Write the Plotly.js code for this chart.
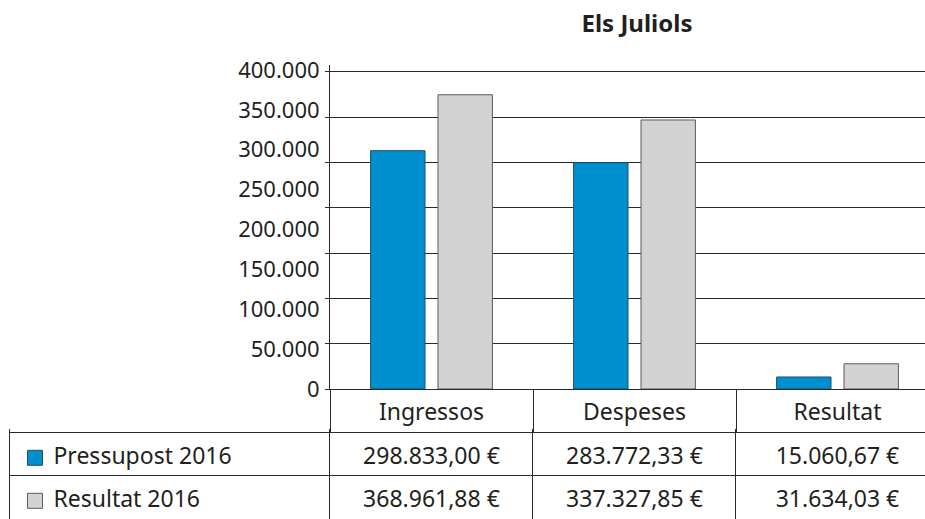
<!DOCTYPE html>
<html>
<head>
<meta charset="utf-8">
<script src="https://cdn.plot.ly/plotly-3.0.1.min.js"></script>
<style>html,body{margin:0;padding:0;background:#fff;}#chart{width:925px;height:519px;}</style>
</head>
<body>
<div id="chart"></div>
<script>
// ---- data ----
const chartTitle = 'Els Juliols';
const categories = ['Ingressos', 'Despeses', 'Resultat'];
const seriesNames = ['Pressupost 2016', 'Resultat 2016'];
const pressupost2016 = [298833.00, 283772.33, 15060.67];
const resultat2016 = [368961.88, 337327.85, 31634.03];
const yTickValues = [0, 50000, 100000, 150000, 200000, 250000, 300000, 350000, 400000];

// ---- style ----
const FONT = '"Noto Sans", "Open Sans", sans-serif';
const TXT = '#231f20';
const LINE = '#2a2a2a';
const BLUE = '#008fce', BLUE_LINE = '#1d4e6b';
const GRAY = '#d3d3d3', GRAY_LINE = '#5a5a5a';

function fmtEuro(v) {
  const parts = v.toFixed(2).split('.');
  const intPart = parts[0].replace(/\B(?=(\d{3})+(?!\d))/g, '.');
  return intPart + ',' + parts[1] + ' €';
}

const W = 925, H = 519;
const px = v => v / W, py = v => 1 - v / H;

const xRange = [-0.5, 2.431];
const tableXRange = [-2.076, 2.431];
const rowY = [1.4, 0.4];
const legendMarkerX = -1.953;
const legendTextX = -1.862;

const traces = [
  {
    type: 'bar', x: categories, y: pressupost2016, name: seriesNames[0],
    width: 0.268, offset: -0.30,
    marker: {color: BLUE, line: {color: BLUE_LINE, width: 1}},
    hoverinfo: 'skip'
  },
  {
    type: 'bar', x: categories, y: resultat2016, name: seriesNames[1],
    width: 0.268, offset: 0.032,
    marker: {color: GRAY, line: {color: GRAY_LINE, width: 1}},
    hoverinfo: 'skip'
  },
  { // carrier for gridline axis
    type: 'scatter', x: [categories[0]], y: [0], yaxis: 'y2', mode: 'markers',
    marker: {opacity: 0}, hoverinfo: 'skip'
  },
  { // legend squares in the table
    type: 'scatter', xaxis: 'x2', yaxis: 'y3', mode: 'markers',
    x: [legendMarkerX, legendMarkerX], y: rowY,
    marker: {symbol: 'square', size: 15, color: [BLUE, GRAY], line: {color: [BLUE_LINE, GRAY_LINE], width: 1}},
    hoverinfo: 'skip'
  },
  { // legend names
    type: 'scatter', xaxis: 'x2', yaxis: 'y3', mode: 'text',
    x: [legendTextX, legendTextX], y: rowY, text: seriesNames,
    textposition: 'middle right', textfont: {family: FONT, size: 23, color: TXT},
    hoverinfo: 'skip'
  },
  {
    type: 'scatter', xaxis: 'x2', yaxis: 'y3', mode: 'text',
    x: categories.map((c, i) => i), y: categories.map(() => rowY[0]),
    text: pressupost2016.map(fmtEuro),
    textposition: 'middle center', textfont: {family: FONT, size: 23, color: TXT},
    hoverinfo: 'skip'
  },
  {
    type: 'scatter', xaxis: 'x2', yaxis: 'y3', mode: 'text',
    x: categories.map((c, i) => i), y: categories.map(() => rowY[1]),
    text: resultat2016.map(fmtEuro),
    textposition: 'middle center', textfont: {family: FONT, size: 23, color: TXT},
    hoverinfo: 'skip'
  }
];

const layout = {
  width: W, height: H,
  margin: {l: 0, r: 0, t: 0, b: 0},
  paper_bgcolor: '#fff', plot_bgcolor: 'rgba(0,0,0,0)',
  showlegend: false,
  separators: ',.',
  font: {family: FONT, color: TXT},
  title: {
    text: '<b>' + chartTitle + '</b>',
    font: {family: FONT, size: 24, color: TXT},
    x: px(637), xanchor: 'center', xref: 'paper',
    y: py(24), yanchor: 'middle'
  },
  barmode: 'overlay',
  xaxis: {
    type: 'category', domain: [px(330), 1], range: xRange,
    anchor: 'y',
    tickson: 'boundaries', ticks: 'outside', ticklen: 43, tickwidth: 1, tickcolor: LINE,
    ticklabelstandoff: 2,
    tickfont: {family: FONT, size: 23, color: TXT},
    showline: true, linecolor: LINE, linewidth: 1,
    showgrid: false, zeroline: false, fixedrange: true
  },
  yaxis: {
    domain: [py(389), py(65)], range: [0, 406270], anchor: 'x',
    tickvals: yTickValues, tickformat: ',d',
    ticks: 'outside', ticklen: 5, tickcolor: 'rgba(0,0,0,0)',
    tickfont: {family: FONT, size: 22, color: TXT},
    showline: true, linecolor: LINE, linewidth: 1,
    showgrid: false, zeroline: false, fixedrange: true
  },
  yaxis2: {
    overlaying: 'y', side: 'left', anchor: 'x',
    range: [0, 7.154],
    tickvals: [0, 1, 2, 3, 4, 5, 6, 7],
    showticklabels: false, ticks: 'outside', ticklen: 4, tickcolor: LINE,
    showgrid: true, gridcolor: LINE, gridwidth: 1,
    zeroline: false, showline: false, fixedrange: true
  },
  xaxis2: {
    domain: [px(10), 1], range: tableXRange, anchor: 'y3',
    tickvals: [-0.5, 0.5, 1.5], showticklabels: false, ticks: '',
    showgrid: true, gridcolor: LINE, gridwidth: 1,
    zeroline: false, showline: false, fixedrange: true
  },
  yaxis3: {
    domain: [0, py(429)], range: [-0.023, 2.07], anchor: 'x2',
    tickvals: [1, 2], showticklabels: false, ticks: '',
    showgrid: true, gridcolor: LINE, gridwidth: 1,
    zeroline: false, showline: false, fixedrange: true
  }
};

// left border of the table body: drawn by a y-axis line limited to the rows
layout.yaxis4 = {
  domain: [0, py(432)], range: [0, 1], anchor: 'x2', overlaying: 'y3',
  showline: true, linecolor: LINE, linewidth: 1, showticklabels: false, ticks: '',
  showgrid: false, zeroline: false, fixedrange: true
};
traces.push({type: 'scatter', xaxis: 'x2', yaxis: 'y4', x: [legendMarkerX], y: [0.5], mode: 'markers', marker: {opacity: 0}, hoverinfo: 'skip'});

Plotly.newPlot('chart', traces, layout, {staticPlot: true, displayModeBar: false});
</script>
</body>
</html>
